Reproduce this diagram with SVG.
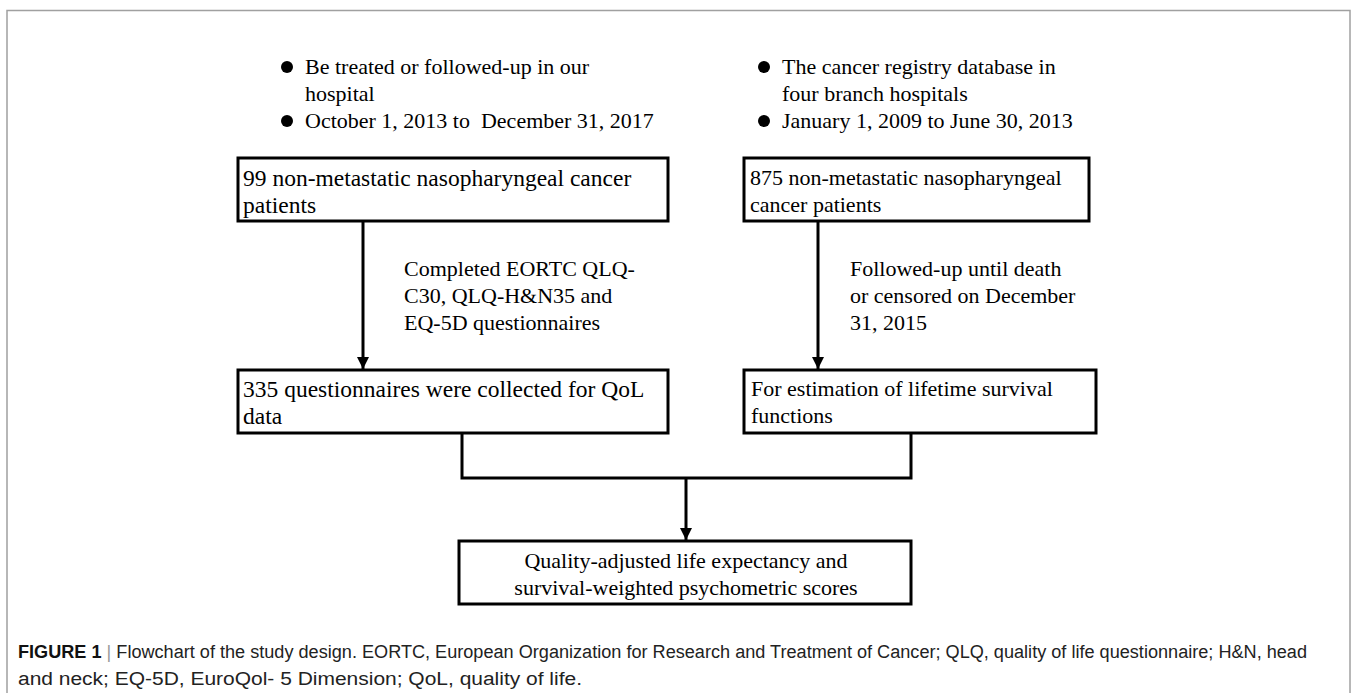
<svg xmlns="http://www.w3.org/2000/svg" width="1355" height="693" viewBox="0 0 1355 693">
<defs>
<style>
.t{font-family:"Liberation Serif","Times New Roman",serif;font-size:22px;fill:#000}
.tl{font-size:23.5px}
.box{fill:#fff;stroke:#000;stroke-width:3}
.ln{fill:none;stroke:#000;stroke-width:3}
.cap{font-family:"Liberation Sans Narrow","Liberation Sans",Arial,sans-serif;font-size:18px;fill:#222}
</style>
<marker id="ah" viewBox="0 0 10 10" refX="10" refY="5" markerWidth="4" markerHeight="4" orient="auto" markerUnits="strokeWidth">
<path d="M0,0 L10,5 L0,10 z" fill="#000"/>
</marker>
</defs>
<rect x="0" y="0" width="1355" height="693" fill="#fff"/>
<rect x="7" y="10.5" width="1343" height="700" fill="none" stroke="#a0a0a0" stroke-width="1.5"/>

<g id="criteria-left">
<circle cx="287" cy="67" r="6" fill="#000"/>
<text class="t" x="305" y="74">Be treated or followed-up in our</text>
<text class="t" x="305" y="101">hospital</text>
<circle cx="287" cy="121" r="6" fill="#000"/>
<text class="t" x="305" y="128" xml:space="preserve">October 1, 2013 to  December 31, 2017</text>
</g>
<g id="criteria-right">
<circle cx="764" cy="67" r="6" fill="#000"/>
<text class="t" x="782" y="74">The cancer registry database in</text>
<text class="t" x="782" y="101">four branch hospitals</text>
<circle cx="764" cy="121" r="6" fill="#000"/>
<text class="t" x="782" y="128">January 1, 2009 to June 30, 2013</text>
</g>

<g id="connectors">
<line class="ln" x1="363" y1="221" x2="363" y2="369" marker-end="url(#ah)"/>
<line class="ln" x1="818" y1="221" x2="818" y2="369" marker-end="url(#ah)"/>
<polyline class="ln" points="462,433 462,478 911,478 911,433"/>
<line class="ln" x1="686" y1="478" x2="686" y2="540" marker-end="url(#ah)"/>
<text class="t" x="404" y="276">Completed EORTC QLQ-</text>
<text class="t" x="404" y="303">C30, QLQ-H&amp;N35 and</text>
<text class="t" x="404" y="330">EQ-5D questionnaires</text>
<text class="t" x="850" y="276">Followed-up until death</text>
<text class="t" x="850" y="303">or censored on December</text>
<text class="t" x="850" y="330">31, 2015</text>
</g>

<g id="box1">
<rect class="box" x="238" y="158" width="430" height="63"/>
<text class="t tl" x="243" y="186">99 non-metastatic nasopharyngeal cancer</text>
<text class="t tl" x="243" y="213">patients</text>
</g>
<g id="box2">
<rect class="box" x="744" y="158" width="345" height="63"/>
<text class="t" x="750" y="185">875 non-metastatic nasopharyngeal</text>
<text class="t" x="750" y="212">cancer patients</text>
</g>
<g id="box3">
<rect class="box" x="238" y="370" width="430" height="63"/>
<text class="t tl" x="243" y="397">335 questionnaires were collected for QoL</text>
<text class="t tl" x="243" y="424">data</text>
</g>
<g id="box4">
<rect class="box" x="744" y="370" width="352" height="63"/>
<text class="t" x="751" y="396">For estimation of lifetime survival</text>
<text class="t" x="751" y="423">functions</text>
</g>
<g id="box5">
<rect class="box" x="459" y="541" width="452" height="63"/>
<text class="t" x="686" y="568" text-anchor="middle">Quality-adjusted life expectancy and</text>
<text class="t" x="686" y="595" text-anchor="middle">survival-weighted psychometric scores</text>
</g>

<g id="caption">
<text class="cap" x="18" y="658" textLength="1289" lengthAdjust="spacingAndGlyphs"><tspan font-weight="bold" fill="#111">FIGURE 1</tspan><tspan fill="#999"> | </tspan>Flowchart of the study design. EORTC, European Organization for Research and Treatment of Cancer; QLQ, quality of life questionnaire; H&amp;N, head</text>
<text class="cap" x="18" y="685" textLength="564" lengthAdjust="spacingAndGlyphs">and neck; EQ-5D, EuroQol- 5 Dimension; QoL, quality of life.</text>
</g>
</svg>
